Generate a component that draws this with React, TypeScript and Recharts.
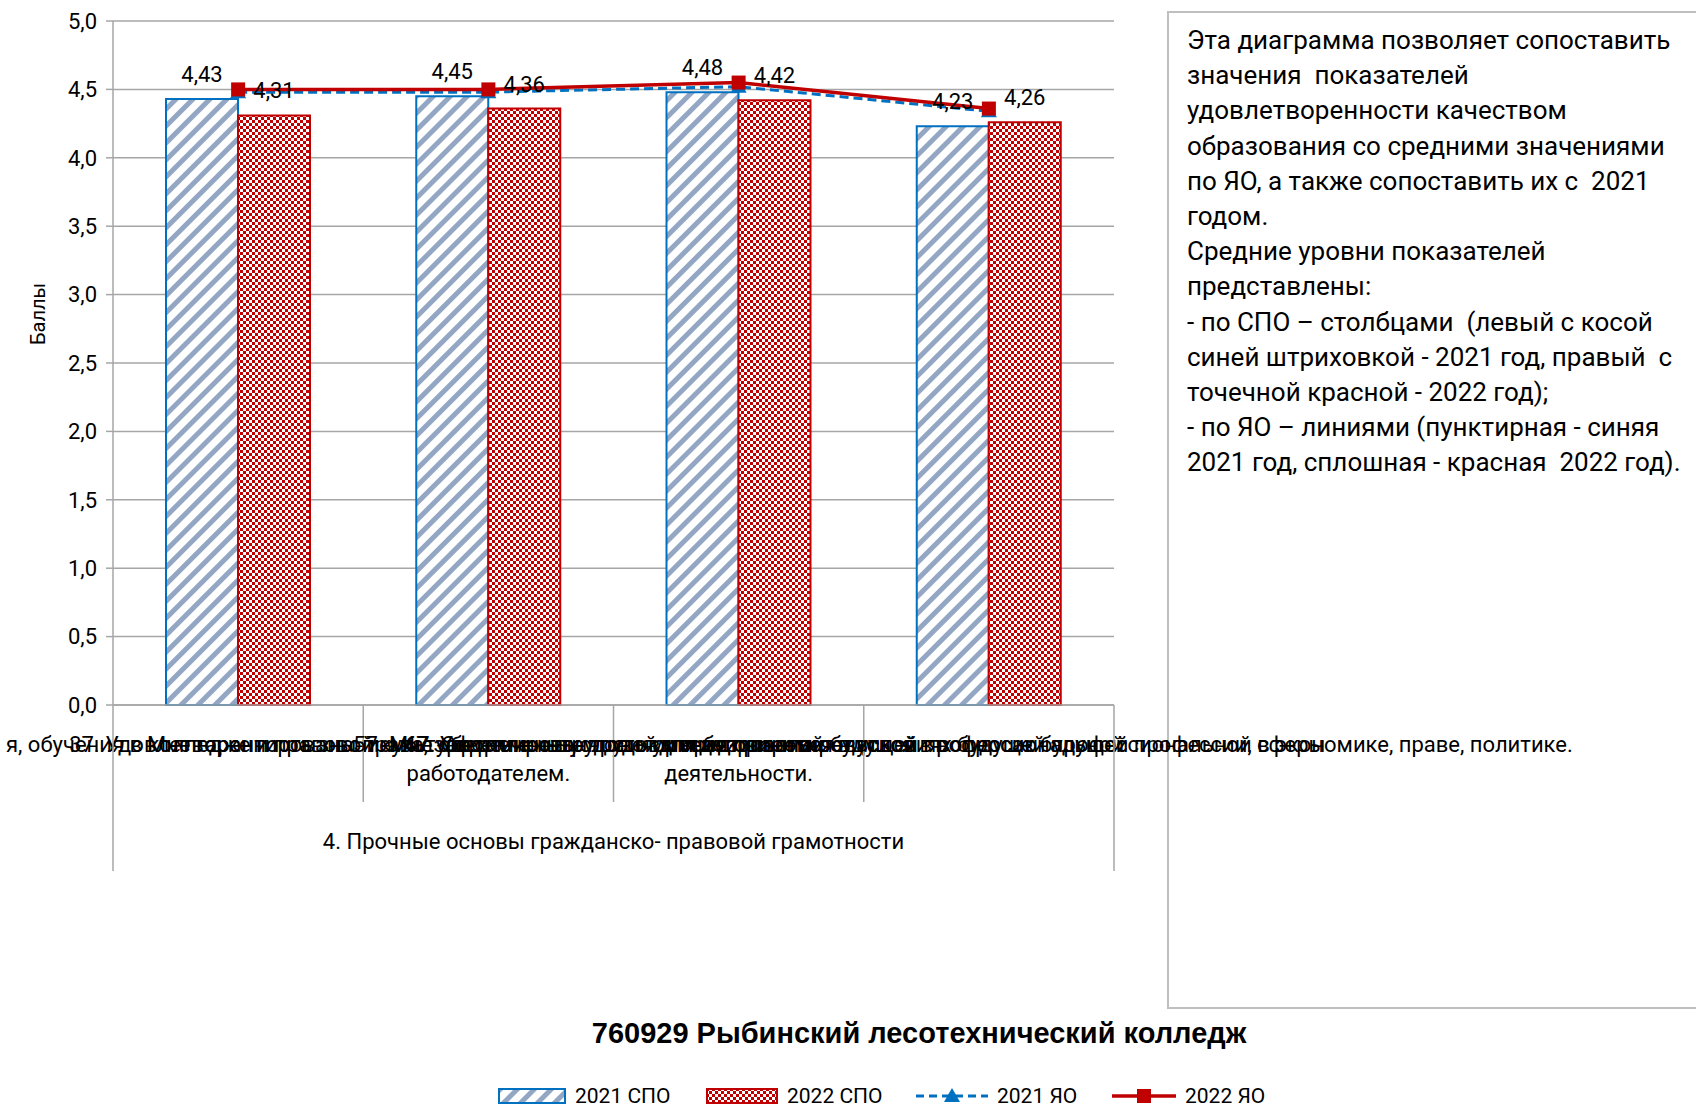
import React from "react";
import {
  ComposedChart,
  Bar,
  Line,
  XAxis,
  YAxis,
  CartesianGrid,
  LabelList,
  Legend,
  Label,
} from "recharts";

// chart values
const categories = ["37", "47", "57", "67"];
const groupLabel = "4. Прочные основы гражданско- правовой грамотности";
const spo2021 = [4.43, 4.45, 4.48, 4.23];
const spo2022 = [4.31, 4.36, 4.42, 4.26];
const yo2021 = [4.48, 4.48, 4.52, 4.34];
const yo2022 = [4.5, 4.5, 4.55, 4.36];
const yTicks = [0, 0.5, 1, 1.5, 2, 2.5, 3, 3.5, 4, 4.5, 5];
const legendOrder = ["spo2021", "spo2022", "yo2021", "yo2022"];

// category text: rows of lines, the lines of one row are drawn on top of each other (as in the source)
const categoryLabelRows: string[][][] = [
  [["37. Удовлетворенность знанием", "я, обучения в колледже и правовой культуре"]],
  [
    ["47. Уверенность", "Мне гарантированы права, закрепленные трудовым договором с"],
    ["работодателем."],
  ],
  [
    ["57. Мне обеспечены условия для безопасной будущей профессиональной", "трудовой и предпринимательской"],
    ["деятельности."],
  ],
  [
    [
      "ориентироваться в условиях будущей профессиональной сферы",
      "67. Сформированность умения ориентироваться в вопросах будущей профессии, в экономике, праве, политике.",
    ],
  ],
];

const noteLines = [
  "Эта диаграмма позволяет сопоставить",
  "значения  показателей",
  "удовлетворенности качеством",
  "образования со средними значениями",
  "по ЯО, а также сопоставить их с  2021",
  "годом.",
  "Средние уровни показателей",
  "представлены:",
  "- по СПО – столбцами  (левый с косой",
  "синей штриховкой - 2021 год, правый  с",
  "точечной красной - 2022 год);",
  "- по ЯО – линиями (пунктирная - синяя",
  "2021 год, сплошная - красная  2022 год).",
];

const title = "760929 Рыбинский лесотехнический колледж";

const data = categories.map((c, i) => ({
  key: c,
  group: groupLabel,
  spo2021: spo2021[i],
  spo2022: spo2022[i],
  yo2021: yo2021[i],
  yo2022: yo2022[i],
}));

const FONT = "Roboto, 'Noto Sans', sans-serif";
const BLUE = "#0070C0";
const RED = "#C00000";
const GRID = "#A6A6A6";
const W = 1696;
const H = 1110;
const PLOT_LEFT = 113;
const PLOT_RIGHT = 1114;
const BAND = (PLOT_RIGHT - PLOT_LEFT) / categories.length;

const fmt = (v: any) => Number(v).toFixed(2).replace(".", ",");

function CategoryTick(props: any) {
  const { x, y, index } = props;
  const rows = categoryLabelRows[index] || [];
  const left = x - BAND / 2;
  return (
    <g>
      {index > 0 && (
        <line x1={left} x2={left} y1={y} y2={y + 97} stroke={GRID} strokeWidth={1.5} />
      )}
      {rows.map((row, r) =>
        row.map((t, k) => (
          <text
            key={`${r}-${k}`}
            x={x}
            y={y + 39 + r * 29}
            textAnchor="middle"
            dominantBaseline="central"
            fontFamily={FONT}
            fontSize={22}
            fill="#000"
          >
            {t}
          </text>
        ))
      )}
    </g>
  );
}

function GroupTick(props: any) {
  const { x, y, payload } = props;
  const half = (PLOT_RIGHT - PLOT_LEFT) / 2;
  return (
    <g>
      <line x1={x - half} x2={x - half} y1={y - 97} y2={y + 69} stroke={GRID} strokeWidth={1.5} />
      <line x1={x + half} x2={x + half} y1={y - 97} y2={y + 69} stroke={GRID} strokeWidth={1.5} />
      <text
        x={x}
        y={y + 39}
        textAnchor="middle"
        dominantBaseline="central"
        fontFamily={FONT}
        fontSize={22}
        fill="#000"
      >
        {payload.value}
      </text>
    </g>
  );
}

function TriangleDot(props: any) {
  const { cx, cy } = props;
  if (cx == null || cy == null) return null;
  return (
    <polygon
      points={`${cx},${cy - 8} ${cx + 8},${cy + 6} ${cx - 8},${cy + 6}`}
      fill={BLUE}
    />
  );
}

function SquareDot(props: any) {
  const { cx, cy } = props;
  if (cx == null || cy == null) return null;
  return <rect x={cx - 7} y={cy - 7} width={14} height={14} fill={RED} />;
}

function Patterns({ suffix }: { suffix: string }) {
  return (
    <defs>
      <pattern
        id={`hatch${suffix}`}
        width={12}
        height={12}
        patternUnits="userSpaceOnUse"
        patternTransform="rotate(45)"
      >
        <rect x={0} y={0} width={12} height={12} fill="#fff" />
        <rect x={0} y={0} width={5} height={12} fill="#93A6C3" />
      </pattern>
      <pattern id={`check${suffix}`} width={6} height={6} patternUnits="userSpaceOnUse">
        <rect x={0} y={0} width={6} height={6} fill="#fff" />
        <rect x={0} y={0} width={3} height={3} fill={RED} />
        <rect x={3} y={3} width={3} height={3} fill={RED} />
      </pattern>
    </defs>
  );
}

const legendLeft = [498, 706, 916, 1112];

function swatchFor(key: string) {
  if (key === "spo2021") {
    return (
      <svg width={68} height={16}>
        <rect x={1} y={1} width={66} height={14} fill="url(#hatchL)" stroke={BLUE} strokeWidth={2} />
      </svg>
    );
  }
  if (key === "spo2022") {
    return (
      <svg width={72} height={16}>
        <rect x={1} y={1} width={70} height={14} fill="url(#checkL)" stroke={RED} strokeWidth={2} />
      </svg>
    );
  }
  if (key === "yo2021") {
    return (
      <svg width={72} height={16}>
        <line x1={0} x2={72} y1={8} y2={8} stroke={BLUE} strokeWidth={3} strokeDasharray="8 5" />
        <polygon points="36,0 44,14 28,14" fill={BLUE} />
      </svg>
    );
  }
  return (
    <svg width={64} height={16}>
      <line x1={0} x2={64} y1={8} y2={8} stroke={RED} strokeWidth={3.5} />
      <rect x={25} y={1} width={14} height={14} fill={RED} />
    </svg>
  );
}

function LegendContent(props: any) {
  const payload = props.payload || [];
  const items = legendOrder
    .map((k) => payload.find((p: any) => p.dataKey === k))
    .filter(Boolean);
  return (
    <div style={{ position: "relative", width: W, height: 28, fontFamily: FONT, fontSize: 21 }}>
      <svg width={0} height={0} style={{ position: "absolute" }}>
        <Patterns suffix="L" />
      </svg>
      {items.map((p: any, i: number) => (
        <div
          key={p.dataKey}
          style={{
            position: "absolute",
            left: legendLeft[i],
            top: 0,
            height: 28,
            display: "flex",
            alignItems: "center",
            gap: 9,
            whiteSpace: "nowrap",
            color: "#000",
          }}
        >
          {swatchFor(p.dataKey)}
          <span>{p.value}</span>
        </div>
      ))}
    </div>
  );
}

export default function App() {
  return (
    <div style={{ position: "absolute", left: 0, top: 0, width: W, height: H, background: "#fff", overflow: "hidden" }}>
      <div
        style={{
          position: "absolute",
          left: 1167,
          top: 11,
          width: 600,
          height: 998,
          border: "2px solid #BFBFBF",
          boxSizing: "border-box",
          paddingTop: 10,
          paddingLeft: 18,
          fontFamily: FONT,
          fontSize: 26,
          lineHeight: "35.2px",
          color: "#000",
        }}
      >
        {noteLines.map((l, i) => (
          <div key={i} style={{ whiteSpace: "pre" }}>
            {l}
          </div>
        ))}
      </div>
      <div
        style={{
          position: "absolute",
          left: 919,
          top: 1015,
          transform: "translateX(-50%)",
          whiteSpace: "nowrap",
          fontFamily: "'Liberation Sans', Arial, sans-serif",
          fontWeight: "bold",
          fontSize: 29,
          lineHeight: "36px",
          color: "#000",
        }}
      >
        {title}
      </div>
      <div style={{ position: "absolute", left: 0, top: 0 }}>
        <ComposedChart
          width={W}
          height={H}
          data={data}
          margin={{ top: 21, right: W - PLOT_RIGHT, bottom: 0, left: 0 }}
          barCategoryGap={53}
          barGap={0}
          style={{ overflow: "visible" }}
        >
          <Patterns suffix="C" />
          <CartesianGrid vertical={false} stroke={GRID} strokeWidth={1.5} />
          <XAxis
            xAxisId="cat"
            dataKey="key"
            height={97}
            interval={0}
            tickLine={false}
            tickSize={0}
            tickMargin={0}
            axisLine={{ stroke: GRID, strokeWidth: 1.5 }}
            tick={<CategoryTick />}
          />
          <XAxis
            xAxisId="group"
            dataKey="group"
            allowDuplicatedCategory={false}
            height={280}
            interval={0}
            tickLine={false}
            tickSize={0}
            tickMargin={0}
            axisLine={false}
            tick={<GroupTick />}
          />
          <YAxis
            type="number"
            domain={[0, 5]}
            ticks={yTicks}
            interval={0}
            width={PLOT_LEFT}
            tickFormatter={(v: number) => v.toFixed(1).replace(".", ",")}
            tick={{ fill: "#000", fontSize: 22, fontFamily: FONT }}
            tickSize={7}
            tickMargin={9}
            tickLine={{ stroke: GRID, strokeWidth: 1.5 }}
            axisLine={{ stroke: GRID, strokeWidth: 1.5 }}
          >
            <Label
              content={(p: any) => {
                const vb = p.viewBox || { x: 0, y: 21 };
                const cx = vb.x + 38;
                const cy = vb.y + 293;
                return (
                  <text
                    x={cx}
                    y={cy}
                    transform={`rotate(-90 ${cx} ${cy})`}
                    textAnchor="middle"
                    dominantBaseline="central"
                    fontFamily={FONT}
                    fontSize={20}
                    fill="#000"
                  >
                    Баллы
                  </text>
                );
              }}
            />
          </YAxis>
          <Bar
            xAxisId="cat"
            dataKey="spo2021"
            name="2021 СПО"
            fill="url(#hatchC)"
            stroke={BLUE}
            strokeWidth={2}
            isAnimationActive={false}
          >
            <LabelList
              dataKey="spo2021"
              position="top"
              offset={17}
              formatter={fmt}
              style={{ fill: "#000", fontSize: 22, fontFamily: FONT }}
            />
          </Bar>
          <Bar
            xAxisId="cat"
            dataKey="spo2022"
            name="2022 СПО"
            fill="url(#checkC)"
            stroke={RED}
            strokeWidth={2}
            isAnimationActive={false}
          >
            <LabelList
              dataKey="spo2022"
              position="top"
              offset={17}
              formatter={fmt}
              style={{ fill: "#000", fontSize: 22, fontFamily: FONT }}
            />
          </Bar>
          <Line
            xAxisId="cat"
            type="linear"
            dataKey="yo2021"
            name="2021 ЯО"
            stroke={BLUE}
            strokeWidth={3}
            strokeDasharray="9 5"
            dot={(p: any) => <TriangleDot {...p} key={`t${p.index}`} />}
            activeDot={false}
            isAnimationActive={false}
          />
          <Line
            xAxisId="cat"
            type="linear"
            dataKey="yo2022"
            name="2022 ЯО"
            stroke={RED}
            strokeWidth={3.5}
            dot={(p: any) => <SquareDot {...p} key={`s${p.index}`} />}
            activeDot={false}
            isAnimationActive={false}
          />
          <Legend
            verticalAlign="bottom"
            content={<LegendContent />}
            wrapperStyle={{ left: 0, bottom: 0, width: W, height: 28 }}
          />
        </ComposedChart>
      </div>
    </div>
  );
}
